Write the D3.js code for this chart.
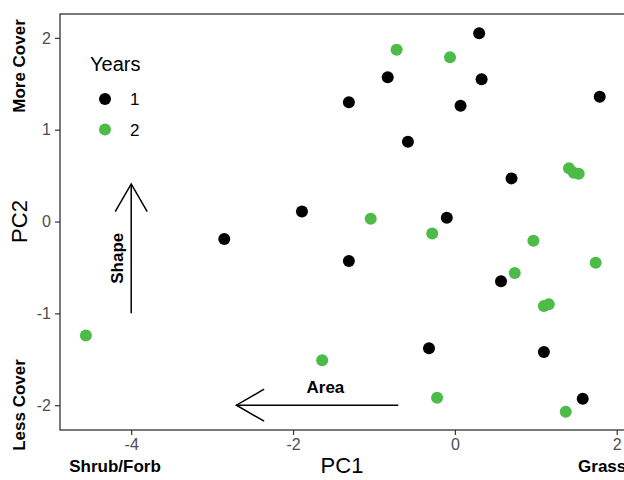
<!DOCTYPE html>
<html>
<head>
<meta charset="utf-8">
<script src="https://d3js.org/d3.v7.min.js"></script>
<style>
  body { margin: 0; background: #fff; }
  text { font-family: "Liberation Sans", Arial, sans-serif; }
</style>
</head>
<body>
<script>

// year 1 points (PC1, PC2)
var pc1Year1 = [-2.85, -1.89, -1.31, -1.31, -0.83, -0.58, 0.07, -0.10, 0.30, 0.33, 1.79, 0.70, 0.57, -0.32, 1.10, 1.58];
var pc2Year1 = [-0.19, 0.11, 1.30, -0.43, 1.57, 0.87, 1.26, 0.04, 2.05, 1.55, 1.36, 0.47, -0.65, -1.38, -1.42, -1.93];

// year 2 points
var pc1Year2 = [-4.56, -1.64, -1.04, -0.72, -0.28, -0.22, -0.06, 0.74, 0.97, 1.10, 1.16, 1.37, 1.41, 1.47, 1.53, 1.74];
var pc2Year2 = [-1.24, -1.51, 0.03, 1.87, -0.13, -1.92, 1.79, -0.56, -0.21, -0.92, -0.90, -2.07, 0.58, 0.53, 0.52, -0.45];

var xTicks = [-4, -2, 0, 2];
var yTicks = [-2, -1, 0, 1, 2];
var years = ["1", "2"];
var colors = ["#000000", "#4cbb47"];

var width = 624, height = 480;
var panel = {left: 60, right: 625, top: 14, bottom: 430};

var x = d3.scaleLinear().domain([-4.88, 2.09]).range([60, 624]);
var y = d3.scaleLinear().domain([-2.27, 2.26]).range([430, 14]);

var svg = d3.select("body").append("svg")
    .attr("width", width)
    .attr("height", height);

// panel border
svg.append("rect")
    .attr("x", panel.left)
    .attr("y", panel.top)
    .attr("width", panel.right - panel.left)
    .attr("height", panel.bottom - panel.top)
    .attr("fill", "none")
    .attr("stroke", "#333333")
    .attr("stroke-width", 1.3);

// axes
var xAxis = svg.append("g")
    .attr("transform", "translate(0," + panel.bottom + ")")
    .call(d3.axisBottom(x).tickValues(xTicks).tickSize(5).tickPadding(4).tickFormat(d3.format("d")));
var yAxis = svg.append("g")
    .attr("transform", "translate(" + panel.left + ",0)")
    .call(d3.axisLeft(y).tickValues(yTicks).tickSize(5).tickPadding(4).tickFormat(d3.format("d")));

[xAxis, yAxis].forEach(function(a) {
  a.select(".domain").remove();
  a.selectAll(".tick line").attr("stroke", "#333333").attr("stroke-width", 1.2);
  a.selectAll(".tick text")
      .attr("fill", "#4d4d4d")
      .style("font-size", "16px")
      .style("font-family", "Liberation Sans, Arial, sans-serif")
      .text(function(d) { return d < 0 ? "-" + Math.abs(d) : d; });
});

// arrows
function arrow(x1, y1, x2, y2) {
  var px1 = x(x1), py1 = y(y1), px2 = x(x2), py2 = y(y2);
  var ang = Math.atan2(py2 - py1, px2 - px1);
  var len = 32, spread = Math.PI / 6;
  var g = svg.append("g").attr("stroke", "#000").attr("stroke-width", 1.5).attr("fill", "none");
  g.append("line").attr("x1", px1).attr("y1", py1).attr("x2", px2).attr("y2", py2);
  g.append("path").attr("d",
      "M" + (px2 - len * Math.cos(ang - spread)) + "," + (py2 - len * Math.sin(ang - spread)) +
      "L" + px2 + "," + py2 +
      "L" + (px2 - len * Math.cos(ang + spread)) + "," + (py2 - len * Math.sin(ang + spread)));
}
arrow(-4, -1, -4, 0.41);
arrow(-0.7, -2, -2.7, -2);

svg.append("text")
    .attr("x", x(-1.6)).attr("y", y(-1.87))
    .attr("text-anchor", "middle")
    .style("font-size", "17px").style("font-weight", "bold")
    .text("Area");

svg.append("text")
    .attr("transform", "translate(" + (x(-4.17) + 6) + "," + y(-0.4) + ") rotate(-90)")
    .attr("text-anchor", "middle")
    .style("font-size", "17px").style("font-weight", "bold")
    .text("Shape");

// points
function drawPoints(xs, ys, color) {
  svg.append("g").selectAll("circle")
      .data(xs.map(function(d, i) { return [d, ys[i]]; }))
      .enter().append("circle")
      .attr("cx", function(d) { return x(d[0]); })
      .attr("cy", function(d) { return y(d[1]); })
      .attr("r", 6)
      .attr("fill", color);
}
drawPoints(pc1Year1, pc2Year1, colors[0]);
drawPoints(pc1Year2, pc2Year2, colors[1]);

// legend
svg.append("text")
    .attr("x", 90).attr("y", 71)
    .style("font-size", "20px")
    .text("Years");
years.forEach(function(yr, i) {
  svg.append("circle")
      .attr("cx", 105).attr("cy", 99 + i * 30.5)
      .attr("r", 6)
      .attr("fill", colors[i]);
  svg.append("text")
      .attr("x", 130).attr("y", 105 + i * 30.5)
      .style("font-size", "17px")
      .text(yr);
});

// axis titles
svg.append("text")
    .attr("x", 342).attr("y", 473)
    .attr("text-anchor", "middle")
    .style("font-size", "22px")
    .text("PC1");
svg.append("text")
    .attr("transform", "translate(27," + y(0) + ") rotate(-90)")
    .attr("text-anchor", "middle")
    .style("font-size", "22px")
    .text("PC2");

// side annotations
svg.append("text")
    .attr("transform", "translate(25,66) rotate(-90)")
    .attr("text-anchor", "middle")
    .style("font-size", "17px").style("font-weight", "bold")
    .text("More Cover");
svg.append("text")
    .attr("transform", "translate(25,405) rotate(-90)")
    .attr("text-anchor", "middle")
    .style("font-size", "17px").style("font-weight", "bold")
    .text("Less Cover");
svg.append("text")
    .attr("x", x(-4.2)).attr("y", 472)
    .attr("text-anchor", "middle")
    .style("font-size", "17px").style("font-weight", "bold")
    .text("Shrub/Forb");
svg.append("text")
    .attr("x", x(1.82)).attr("y", 472)
    .attr("text-anchor", "middle")
    .style("font-size", "17px").style("font-weight", "bold")
    .text("Grass");

</script>
</body>
</html>
